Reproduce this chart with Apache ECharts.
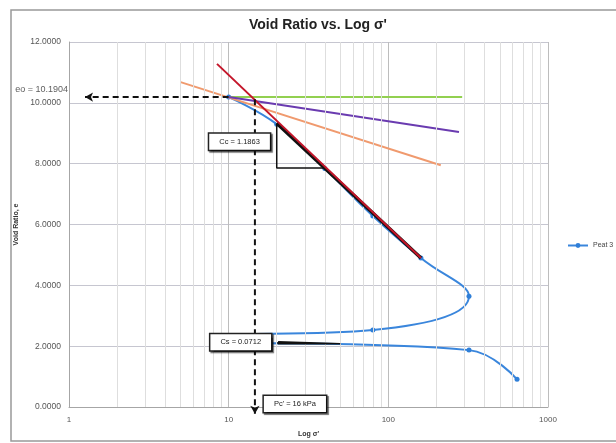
<!DOCTYPE html>
<html><head><meta charset="utf-8">
<script src="https://cdn.jsdelivr.net/npm/echarts@6/dist/echarts.min.js"></script>
<style>html,body{margin:0;padding:0;background:#fff}#c{width:616px;height:443px}</style>
</head><body><div id="c"></div>
<script>
// ---- data ----
const peatSigma = [10, 20, 40, 80, 160, 320, 80, 10, 10, 320, 640];
const peatE     = [10.19, 9.30, 7.84, 6.28, 4.90, 3.64, 2.53, 2.33, 2.20, 1.87, 0.91];
const greenLine  = [[10, 10.19], [290, 10.19]];
const purpleLine = [[10, 10.19], [277, 9.04]];
const orangeLine = [[5, 10.68], [213, 7.95]];
const redLine    = [[8.45, 11.28], [160, 4.90]];
const ccTangent  = [[20, 9.33], [160, 4.90]];
const ccTriangle = [[20, 9.33], [20, 7.86], [40, 7.86]];
const csTriangle = [[20.4, 2.14], [50, 2.08], [20.4, 2.08], [20.4, 2.14]];
const e0Arrow = [[10, 10.19], [1.26, 10.19]];
const pcArrow = [[14.6, 10.12], [14.6, -0.22]];
const minorX = [2,3,4,5,6,7,8,9,20,30,40,50,60,70,80,90,200,300,400,500,600,700,800,900];
const yTicks = [0, 2, 4, 6, 8, 10, 12];
const xTicks = [1, 10, 100, 1000];
const boxLabels = [
  { pos: [11.7, 8.72], text: 'Cc = 1.1863' },
  { pos: [11.9, 2.13], text: 'Cs = 0.0712' },
  { pos: [26, 0.10], text: "Pc' = 16 kPa" }
];
const e0Label = 'eo = 10.1904';

const FONT = 'Liberation Sans';
const chart = echarts.init(document.getElementById('c'), null, {renderer: 'canvas'});
const pairs = peatSigma.map((s, i) => [s, peatE[i]]);

function plainLine(name, data, color, width, z, type) {
  return {
    name, type: 'line', data, symbol: 'none', z, silent: true,
    lineStyle: {color, width, type: type || 'solid'}, clip: false
  };
}

chart.setOption({
  animation: false,
  backgroundColor: '#fff',
  textStyle: {fontFamily: FONT},
  title: {
    text: "Void Ratio vs. Log σ'", left: 244, top: 13,
    textStyle: {fontFamily: FONT, fontSize: 14, fontWeight: 'bold', color: '#222'}
  },
  legend: {
    data: ['Peat 3'], left: 562, top: 237, itemWidth: 20, itemHeight: 6, itemGap: 4,
    textStyle: {fontSize: 7, color: '#444', fontFamily: FONT}
  },
  grid: {left: 69, right: 68, top: 42, bottom: 36},
  xAxis: {
    type: 'log', logBase: 10, min: xTicks[0], max: xTicks[xTicks.length - 1],
    name: "Log σ'", nameLocation: 'middle', nameGap: 24,
    nameTextStyle: {fontSize: 7, fontWeight: 'bold', color: '#333'},
    axisLine: {lineStyle: {color: '#a6a6a6'}},
    axisTick: {show: false},
    axisLabel: {fontSize: 8, color: '#555', margin: 9, formatter: v => String(v)},
    splitLine: {show: true, lineStyle: {color: '#bdbdbd', width: 1}}
  },
  yAxis: {
    type: 'value', min: yTicks[0], max: yTicks[yTicks.length - 1], interval: 2,
    name: 'Void Ratio, e', nameLocation: 'middle', nameGap: 41,
    nameTextStyle: {fontSize: 7, fontWeight: 'bold', color: '#333'},
    axisLine: {show: true, lineStyle: {color: '#a6a6a6'}},
    axisTick: {show: false},
    axisLabel: {fontSize: 8.5, color: '#555', margin: 8, formatter: v => v.toFixed(4)},
    splitLine: {show: true, lineStyle: {color: '#c6c6d0', width: 1}}
  },
  graphic: [{
    id: 'frame', type: 'rect', z: 0, silent: true,
    shape: {x: 11, y: 10, width: 640, height: 431},
    style: {fill: 'none', stroke: '#999', lineWidth: 1.5}
  }],
  series: [
    {
      name: 'minor', type: 'line', data: [], z: 1, silent: true,
      markLine: {
        silent: true, symbol: 'none', label: {show: false},
        lineStyle: {color: '#dedede', width: 1, type: 'solid'},
        data: minorX.map(v => ({xAxis: v}))
      }
    },
    {
      name: 'Peat 3', type: 'line', data: pairs, smooth: 0.45, z: 3,
      symbol: 'circle', symbolSize: 5,
      itemStyle: {color: '#2f7fd8'},
      lineStyle: {color: '#3a86dc', width: 2}
    },
    plainLine('green', greenLine, '#92d050', 2, 4),
    plainLine('orange', orangeLine, '#f09a6e', 2, 4),
    plainLine('purple', purpleLine, '#6a3bb0', 2, 4),
    plainLine('tangent', ccTangent, '#111', 3.5, 5),
    plainLine('triangle', ccTriangle, '#111', 1.5, 5),
    plainLine('cs', csTriangle, '#111', 1.6, 5),
    plainLine('red', redLine, '#c4162a', 2, 6),
    {
      name: 'arrows', type: 'line', data: [], z: 7, clip: false, silent: true,
      markLine: {
        silent: true, symbol: ['none', 'arrow'], symbolSize: [7, 8],
        label: {show: false},
        lineStyle: {color: '#111', width: 2, type: [6, 4]},
        data: [
          [{coord: e0Arrow[0]}, {coord: e0Arrow[1]}]
        ]
      }
    },
    {
      name: 'pcArrow', type: 'line', z: 7, clip: false, silent: true,
      data: [
        {value: pcArrow[0], symbol: 'none'},
        {value: pcArrow[1], symbol: 'arrow', symbolSize: [7, 8], symbolRotate: 180}
      ],
      showSymbol: true, showAllSymbol: true,
      itemStyle: {color: '#111'},
      lineStyle: {color: '#111', width: 2, type: [6, 4]}
    },
    {
      name: 'e0text', type: 'scatter', z: 10, clip: false, silent: true,
      symbolSize: 0,
      data: [{value: [1, 10.19], name: e0Label}],
      label: {
        show: true, position: 'left', distance: 1, offset: [0, -8],
        formatter: p => p.name, fontSize: 9, color: '#333', fontFamily: FONT
      }
    }
  ]
});

// annotation boxes placed from data coordinates, drawn above everything
const boxGraphics = boxLabels.map((b, i) => {
  const [px, py] = chart.convertToPixel({gridIndex: 0}, b.pos);
  return {
    id: 'box' + i, type: 'text', zlevel: 2, z: 100, silent: true,
    x: px, y: py,
    style: {
      text: b.text, font: '7.5px "Liberation Sans"', fill: '#222',
      align: 'center', verticalAlign: 'middle',
      backgroundColor: '#fff', borderColor: '#222', borderWidth: 1.5,
      padding: [4, 10],
      shadowColor: 'rgba(0,0,0,0.55)', shadowOffsetX: 1.5, shadowOffsetY: 1.5, shadowBlur: 1
    }
  };
});
chart.setOption({graphic: boxGraphics});
</script>
</body></html>
